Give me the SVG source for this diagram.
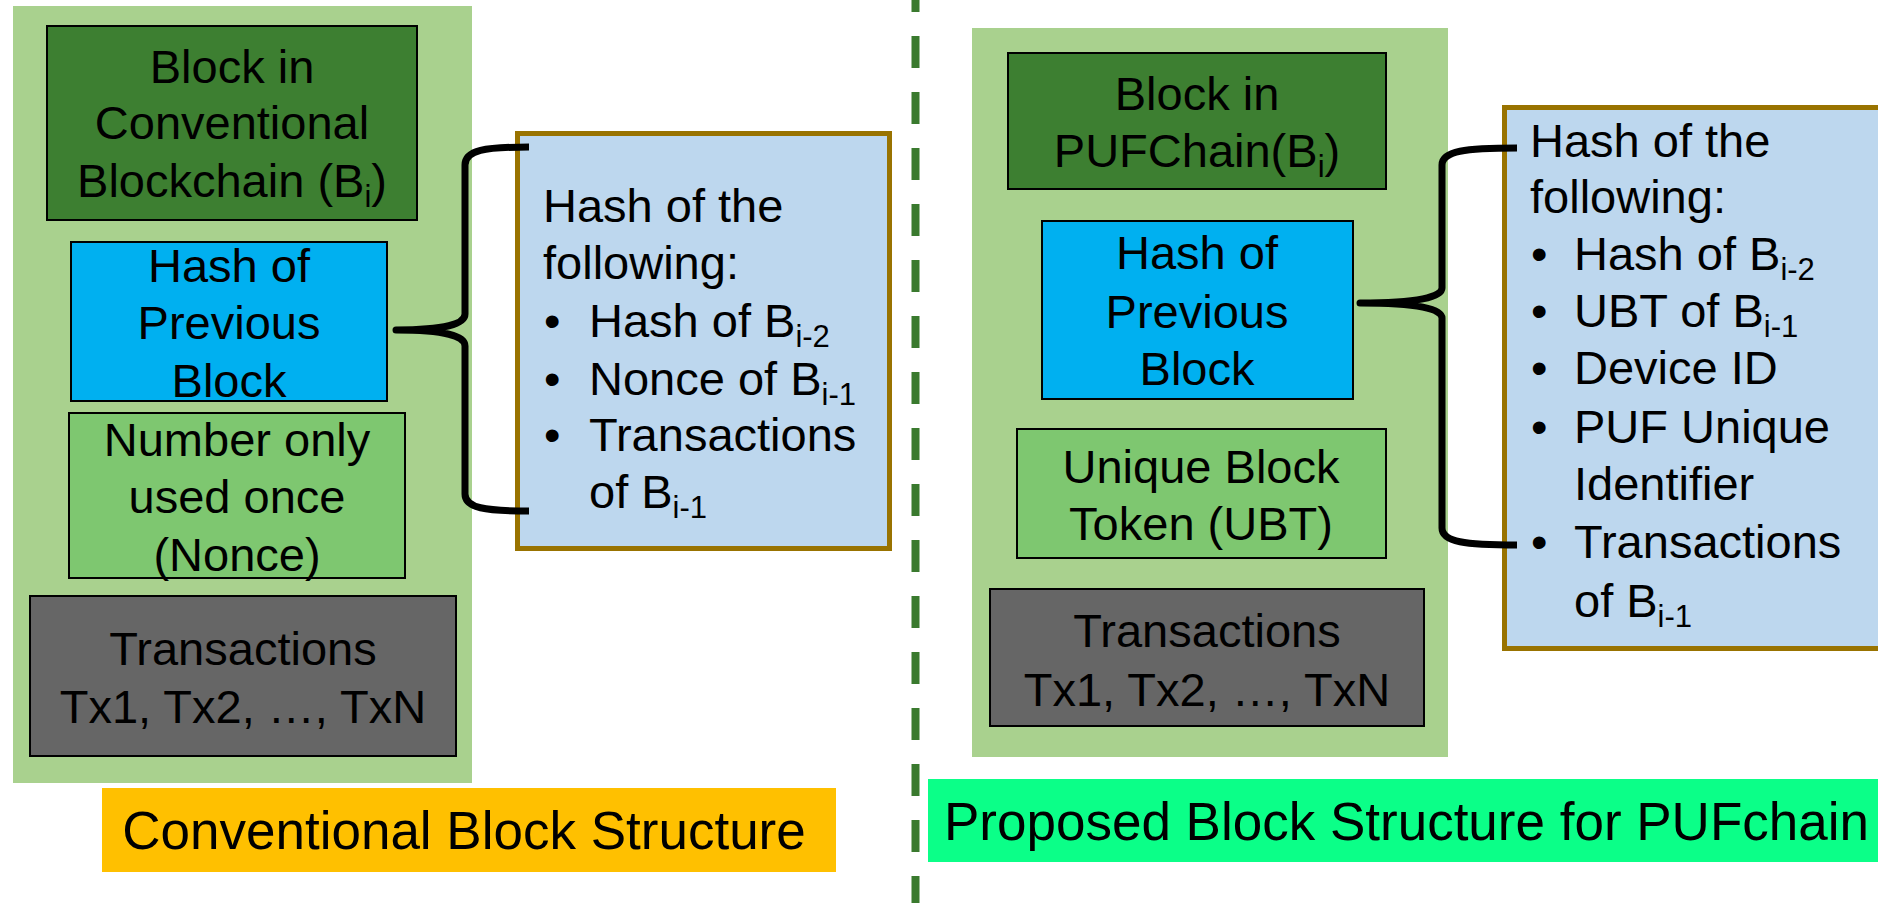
<svg xmlns="http://www.w3.org/2000/svg" width="1878" height="903" viewBox="0 0 1878 903">
<style>
text{font-family:"Liberation Sans",Arial,sans-serif;font-size:47px;fill:#000}
.c{text-anchor:middle}
.sub{font-size:31px}
.panel{fill:#A9D18E}
.dk{fill:#3D7F31;stroke:#000;stroke-width:2}
.bl{fill:#00B0F0;stroke:#000;stroke-width:2}
.lg{fill:#7EC770;stroke:#000;stroke-width:2}
.gy{fill:#666666;stroke:#000;stroke-width:2}
.hb{fill:#BDD7EE;stroke:#997300;stroke-width:5}
.brace{fill:none;stroke:#000;stroke-width:7;stroke-linejoin:round}
.lbl{font-size:53px}
</style>
<rect width="1878" height="903" fill="#fff"/>
<g id="divider">
<line x1="915.5" y1="0" x2="915.5" y2="903" stroke="#3A7A2E" stroke-width="8" stroke-dasharray="32 24" stroke-dashoffset="20"/>
</g>
<!-- Left side -->
<g id="left-panel"><rect class="panel" x="13" y="6" width="459" height="777"/></g>
<g id="left-block">
<rect class="dk" x="47" y="26" width="370" height="194"/>
<text class="c" x="232" y="83">Block in</text>
<text class="c" x="232" y="139">Conventional</text>
<text class="c" x="232" y="197">Blockchain (B<tspan class="sub" dy="10">i</tspan><tspan dy="-10">)</tspan></text>
</g>
<g id="left-hash">
<rect class="bl" x="71" y="242" width="316" height="159"/>
<text class="c" x="229" y="282">Hash of</text>
<text class="c" x="229" y="339">Previous</text>
<text class="c" x="229" y="397">Block</text>
</g>
<g id="left-nonce">
<rect class="lg" x="69" y="413" width="336" height="165"/>
<text class="c" x="237" y="456">Number only</text>
<text class="c" x="237" y="513">used once</text>
<text class="c" x="237" y="571">(Nonce)</text>
</g>
<g id="left-tx">
<rect class="gy" x="30" y="596" width="426" height="160"/>
<text class="c" x="243" y="665">Transactions</text>
<text class="c" x="243" y="723">Tx1, Tx2, …, TxN</text>
</g>
<g id="left-hashlist">
<rect class="hb" x="517.5" y="133.5" width="372" height="415"/>
<text x="543" y="222">Hash of the</text>
<text x="543" y="279">following:</text>
<text y="337"><tspan x="544">•</tspan><tspan x="589">Hash of B</tspan><tspan class="sub" dy="10">i-2</tspan></text>
<text y="395"><tspan x="544">•</tspan><tspan x="589">Nonce of B</tspan><tspan class="sub" dy="10">i-1</tspan></text>
<text y="451"><tspan x="544">•</tspan><tspan x="589">Transactions</tspan></text>
<text y="508"><tspan x="589">of B</tspan><tspan class="sub" dy="10">i-1</tspan></text>
</g>
<g id="left-label">
<rect x="102" y="788" width="734" height="84" fill="#FFC000"/>
<text class="c lbl" x="464" y="849">Conventional Block Structure</text>
</g>
<!-- Right side -->
<g id="right-panel"><rect class="panel" x="972" y="28" width="476" height="729"/></g>
<g id="right-block">
<rect class="dk" x="1008" y="53" width="378" height="136"/>
<text class="c" x="1197" y="110">Block in</text>
<text class="c" x="1197" y="167">PUFChain(B<tspan class="sub" dy="10">i</tspan><tspan dy="-10">)</tspan></text>
</g>
<g id="right-hash">
<rect class="bl" x="1042" y="221" width="311" height="178"/>
<text class="c" x="1197" y="269">Hash of</text>
<text class="c" x="1197" y="328">Previous</text>
<text class="c" x="1197" y="385">Block</text>
</g>
<g id="right-ubt">
<rect class="lg" x="1017" y="429" width="369" height="129"/>
<text class="c" x="1201" y="483">Unique Block</text>
<text class="c" x="1201" y="540">Token (UBT)</text>
</g>
<g id="right-tx">
<rect class="gy" x="990" y="589" width="434" height="137"/>
<text class="c" x="1207" y="647">Transactions</text>
<text class="c" x="1207" y="706">Tx1, Tx2, …, TxN</text>
</g>
<g id="right-hashlist">
<rect class="hb" x="1504.5" y="107.5" width="380" height="541"/>
<text x="1530" y="157">Hash of the</text>
<text x="1530" y="213">following:</text>
<text y="270"><tspan x="1531">•</tspan><tspan x="1574">Hash of B</tspan><tspan class="sub" dy="10">i-2</tspan></text>
<text y="327"><tspan x="1531">•</tspan><tspan x="1574">UBT of B</tspan><tspan class="sub" dy="10">i-1</tspan></text>
<text y="384"><tspan x="1531">•</tspan><tspan x="1574">Device ID</tspan></text>
<text y="443"><tspan x="1531">•</tspan><tspan x="1574">PUF Unique</tspan></text>
<text y="500"><tspan x="1574">Identifier</tspan></text>
<text y="558"><tspan x="1531">•</tspan><tspan x="1574">Transactions</tspan></text>
<text y="617"><tspan x="1574">of B</tspan><tspan class="sub" dy="10">i-1</tspan></text>
</g>
<g id="right-label">
<rect x="928" y="779" width="960" height="83" fill="#0BFF88"/>
<text class="lbl" x="944" y="840">Proposed Block Structure for PUFchain</text>
</g>
<g id="connectors">
<path class="brace" d="M529,147 C485,147 465,150 465,165 L465,314 C465,324 445,330 396,330 C445,330 465,336 465,346 L465,494 C465,508 485,511 529,511"/>
<path class="brace" d="M1517,148 C1465,148 1442,151 1442,165 L1442,288 C1442,297 1418,303 1360,303 C1418,303 1442,309 1442,318 L1442,528 C1442,542 1465,545 1517,545"/>
</g>
</svg>
